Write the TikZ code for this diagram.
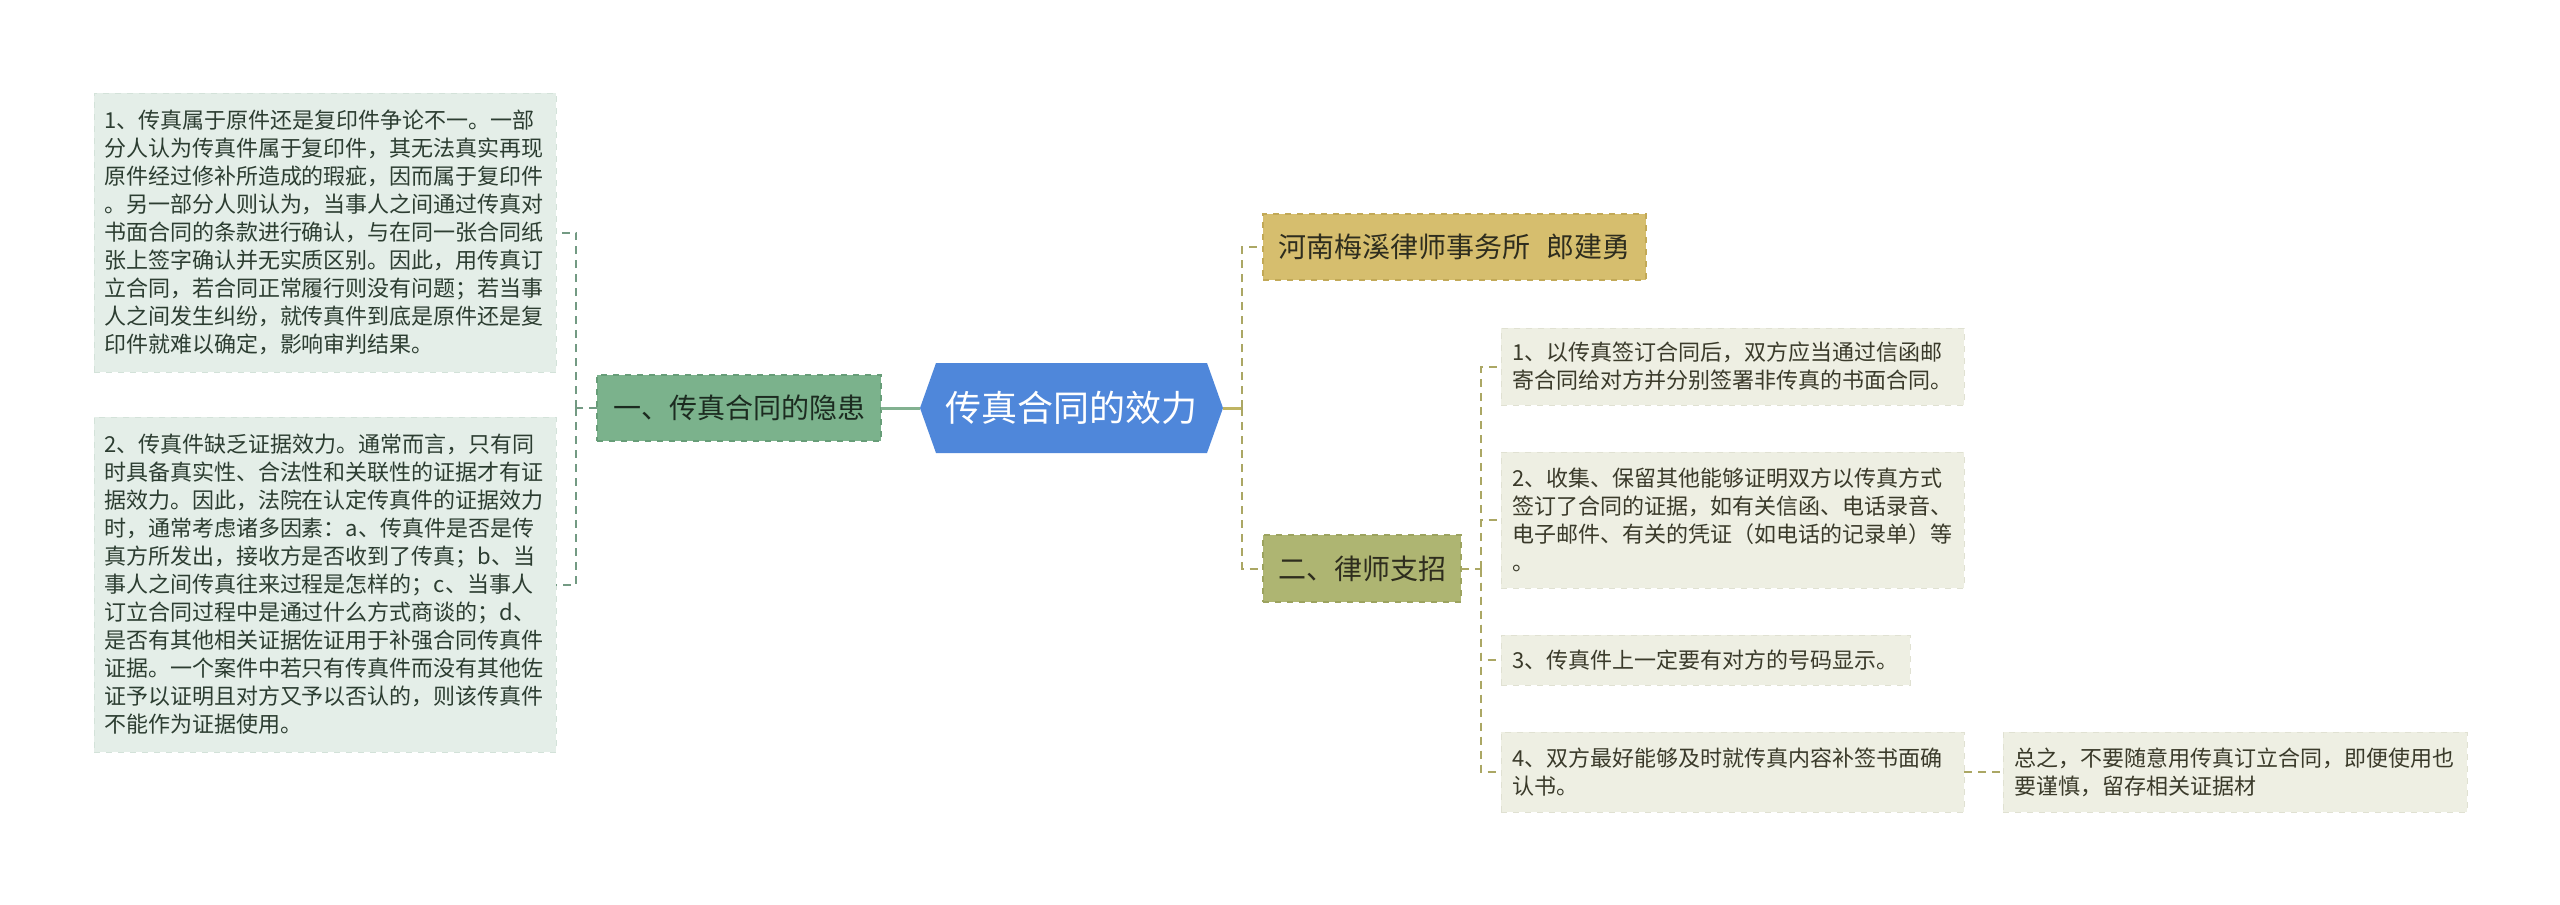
\documentclass[tikz,border=0pt]{standalone}
\usepackage{fontspec}
\setmainfont{Noto Sans CJK SC}
\usetikzlibrary{backgrounds}
\definecolor{lbfill}{HTML}{E4EEE8}
\definecolor{lbdraw}{HTML}{D3E2D9}
\definecolor{ltext}{HTML}{2C3D31}
\definecolor{nafill}{HTML}{7BB28C}
\definecolor{nadraw}{HTML}{679D78}
\definecolor{natext}{HTML}{1C2B20}
\definecolor{rootfill}{HTML}{4F87DA}
\definecolor{lawfill}{HTML}{D6BE6E}
\definecolor{lawdraw}{HTML}{C2A957}
\definecolor{erfill}{HTML}{AEB572}
\definecolor{erdraw}{HTML}{9CA35F}
\definecolor{rtext}{HTML}{2E2D1E}
\definecolor{itfill}{HTML}{EEEFE3}
\definecolor{itdraw}{HTML}{E0E1D2}
\definecolor{itext}{HTML}{3A3A2A}
\definecolor{lline}{HTML}{739A83}
\definecolor{lsol}{HTML}{82B190}
\definecolor{rline}{HTML}{ABA764}
\definecolor{rsol}{HTML}{BFB462}
\begin{document}
\begin{tikzpicture}[x=0.5pt,y=-0.5pt,
  leftbox/.style={fill=lbfill, draw=lbdraw, dashed, line width=0.5pt, text=ltext,
    font=\fontsize{11}{14}\selectfont, text width=221pt, inner xsep=5pt, align=left, outer sep=0pt},
  midbox/.style={line width=0.8pt, dashed, font=\fontsize{14}{16}\selectfont, inner sep=0pt, outer sep=0pt},
  itembox/.style={fill=itfill, draw=itdraw, dashed, line width=0.5pt, text=itext,
    font=\fontsize{11}{14}\selectfont, text width=220.5pt, inner xsep=5.5pt, align=left, outer sep=0pt},
  ldash/.style={draw=lline, line width=1pt, dash pattern=on 4pt off 3pt},
  rdash/.style={draw=rline, line width=1pt, dash pattern=on 4pt off 3pt},
  lsolid/.style={draw=lsol, line width=1.5pt},
  rsolid/.style={draw=rsol, line width=1.5pt}
]
\useasboundingbox (0,0) rectangle (2560,905);

% left boxes
\node[leftbox, minimum height=139.5pt] (b1) at (325,232.5) {1、传真属于原件还是复印件争论不一。一部\\分人认为传真件属于复印件，其无法真实再现\\原件经过修补所造成的瑕疵，因而属于复印件\\。另一部分人则认为，当事人之间通过传真对\\书面合同的条款进行确认，与在同一张合同纸\\张上签字确认并无实质区别。因此，用传真订\\立合同，若合同正常履行则没有问题；若当事\\人之间发生纠纷，就传真件到底是原件还是复\\印件就难以确定，影响审判结果。};
\node[leftbox, minimum height=167.5pt] (b2) at (325,584.5) {2、传真件缺乏证据效力。通常而言，只有同\\时具备真实性、合法性和关联性的证据才有证\\据效力。因此，法院在认定传真件的证据效力\\时，通常考虑诸多因素：a、传真件是否是传\\真方所发出，接收方是否收到了传真；b、当\\事人之间传真往来过程是怎样的；c、当事人\\订立合同过程中是通过什么方式商谈的；d、\\是否有其他相关证据佐证用于补强合同传真件\\证据。一个案件中若只有传真件而没有其他佐\\证予以证明且对方又予以否认的，则该传真件\\不能作为证据使用。};

% first level left
\node[midbox, fill=nafill, draw=nadraw, text=natext, minimum width=142pt, minimum height=33pt] (na) at (739,408) {一、传真合同的隐患};

% root
\node[inner sep=0pt, outer sep=0pt, minimum width=151.5pt, minimum height=45pt, text=white, font=\fontsize{18}{20}\selectfont] (root) at (1071.5,408) {传真合同的效力};
\begin{scope}[on background layer]
\fill[white] (0,0) rectangle (2560,905);
\fill[rootfill] (root.west) -- ([xshift=8pt]root.north west) -- ([xshift=-8pt]root.north east) -- (root.east) -- ([xshift=-8pt]root.south east) -- ([xshift=8pt]root.south west) -- cycle;
\end{scope}

% right first level
\node[midbox, fill=lawfill, draw=lawdraw, text=rtext, minimum width=191.5pt, minimum height=33pt] (law) at (1454.5,247) {河南梅溪律师事务所\hspace{0.55em}郎建勇};
\node[midbox, fill=erfill, draw=erdraw, text=rtext, minimum width=99pt, minimum height=33.5pt] (er) at (1362,568.5) {二、律师支招};

% items
\node[itembox, minimum height=38.5pt] (i1) at (1732.5,366.5) {1、以传真签订合同后，双方应当通过信函邮\\寄合同给对方并分别签署非传真的书面合同。};
\node[itembox, minimum height=68pt] (i2) at (1732.5,520) {2、收集、保留其他能够证明双方以传真方式\\签订了合同的证据，如有关信函、电话录音、\\电子邮件、有关的凭证（如电话的记录单）等\\。};
\node[itembox, text width=193.5pt, minimum height=25pt] (i3) at (1705.5,660) {3、传真件上一定要有对方的号码显示。};
\node[itembox, minimum height=40pt] (i4) at (1732.5,772) {4、双方最好能够及时就传真内容补签书面确\\认书。};
\node[itembox, text width=221pt, minimum height=40pt] (sum) at (2235,772) {总之，不要随意用传真订立合同，即便使用也\\要谨慎，留存相关证据材};

% connectors left
\coordinate (lj) at (576,408);
\draw[lsolid] (root.west) -- (na.east);
\draw[ldash] (na.west) -- (lj);
\draw[ldash] (lj) |- (b1.east);
\draw[ldash] (lj) |- (b2.east);

% connectors right
\coordinate (rj) at (1242,408);
\coordinate (rj2) at (1481,568.5);
\draw[rsolid] (root.east) -- (rj);
\draw[rdash] (rj) |- (law.west);
\draw[rdash] (rj) |- (er.west);
\draw[rdash] (er.east) -- (rj2);
\draw[rdash] (rj2) |- (i1.west);
\draw[rdash] (rj2) |- (i2.west);
\draw[rdash] (rj2) |- (i3.west);
\draw[rdash] (rj2) |- (i4.west);
\draw[rdash] (i4.east) -- (sum.west);
\end{tikzpicture}
\end{document}
